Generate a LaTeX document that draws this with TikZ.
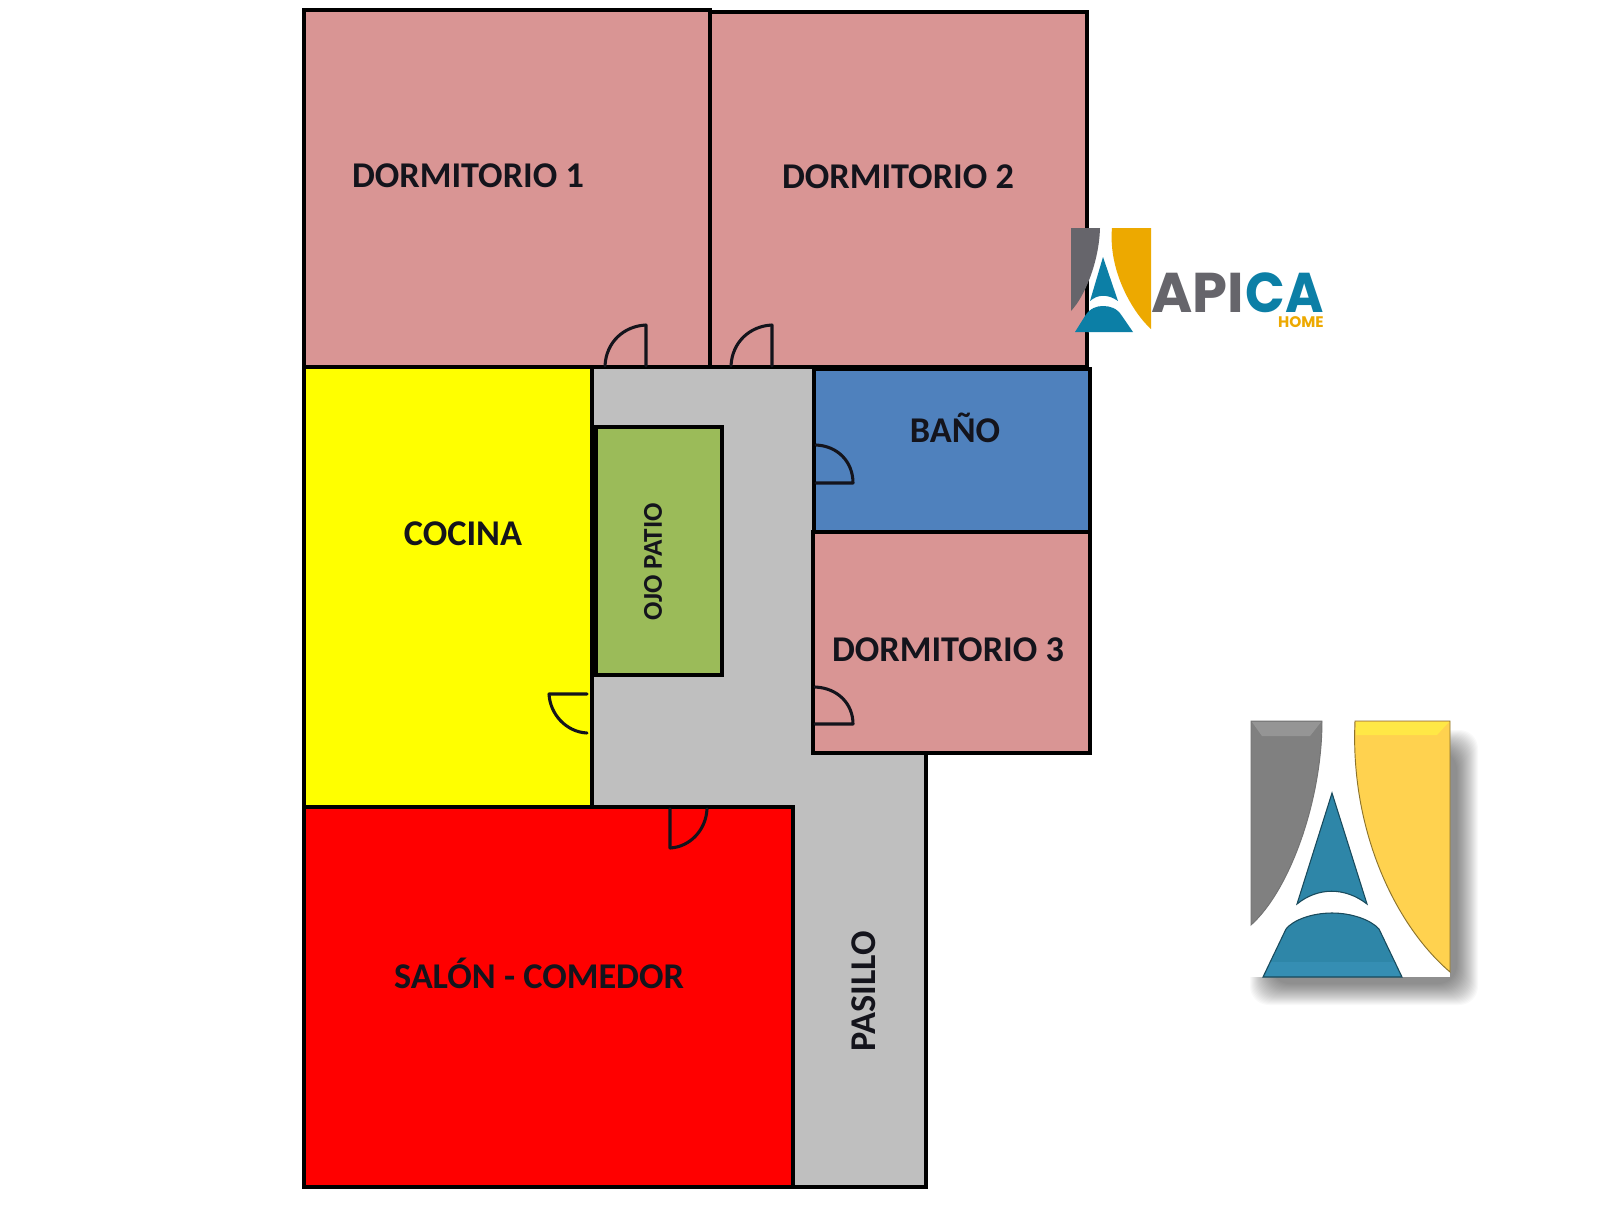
\documentclass[tikz,border=0pt]{standalone}
\usepackage{graphicx}
\usepackage{fontspec}
\setmainfont{Carlito}[BoldFont=Carlito Bold]
\newfontfamily\logofont{Poppins}[UprightFont=* Bold]
\definecolor{rosa}{HTML}{D99594}
\definecolor{gris}{HTML}{BFBFBF}
\definecolor{verde}{HTML}{9BBB59}
\definecolor{azul}{HTML}{4F81BD}
\definecolor{amarillo}{RGB}{255,255,0}
\definecolor{rojo}{RGB}{255,0,0}
\definecolor{tinta}{HTML}{14141C}
\definecolor{lgris}{HTML}{66656B}
\definecolor{loro}{HTML}{EDA900}
\definecolor{lazul}{HTML}{0C7FA6}
\definecolor{bgris}{HTML}{808080}
\definecolor{boro}{HTML}{FFD24F}
\definecolor{bazul}{HTML}{2E86A8}
\definecolor{bamar}{RGB}{255,232,70}
\definecolor{bcian}{RGB}{60,150,190}
\tikzset{
  wall/.style={draw=black,line width=3.5pt,line join=miter,line cap=rect},
  door/.style={draw=tinta,line width=2.3pt,line cap=round,line join=round},
  rotulo/.style={font=\fontsize{27.2pt}{32pt}\selectfont\bfseries,text=tinta,inner sep=0pt},
  rotulochico/.style={font=\fontsize{20.4pt}{24pt}\selectfont\bfseries,text=tinta,inner sep=0pt},
}
\begin{document}
\begin{tikzpicture}[x=0.75pt,y=-0.75pt]
\useasboundingbox (0,0) rectangle (1600,1224);
\fill[white] (0,0) rectangle (1600,1224);
% rooms
\path[wall,fill=gris] (592,367) -- (814,367) -- (814,753) -- (926,753) -- (926,1187) -- (793,1187) -- (793,807) -- (592,807) -- cycle;
\path[wall,fill=rosa] (304,10) rectangle (710,367);
\path[wall,fill=rosa] (710,12) rectangle (1087,367);
\path[wall,fill=amarillo] (304,367) rectangle (592,807);
\path[wall,fill=azul] (814,369) rectangle (1090,532);
\path[wall,fill=rosa] (813,532) rectangle (1090,753);
\path[wall,fill=rojo] (304,807) rectangle (793,1187);
\path[wall,fill=verde] (596,427) rectangle (722,675);
% doors
\draw[door] (605,366) .. controls (606,342) and (624,326) .. (646,325) -- (646,366);
\draw[door] (731,366) .. controls (732,342) and (750,326) .. (772,325) -- (772,366);
\draw[door] (816,445) .. controls (838,446) and (853,462) .. (853,483) -- (816,483);
\draw[door] (815,687) .. controls (838,688) and (853,704) .. (853,724) -- (815,724);
\draw[door] (587,694) -- (549,694) .. controls (550,714) and (566,732) .. (587,733);
\draw[door] (670,809) -- (670,848) .. controls (690,847) and (706,830) .. (707,809);
% labels
\node[rotulo] (d1) at (468,176) {DORMITORIO 1};
\node[rotulo] (d2) at (898,176.5) {DORMITORIO 2};
\node[rotulo] (bano) at (955,428) {BAÑO};
\node[rotulo] (cocina) at (463,534) {COCINA};
\node[rotulochico,rotate=90] (ojo) at (653,562) {OJO PATIO};
\node[rotulo] (d3) at (948,650) {DORMITORIO 3};
\node[rotulo] (salon) at (539,973) {SALÓN - COMEDOR};
\node[rotulo,rotate=90] (pasillo) at (864,991) {PASILLO};
% small logo
\fill[white] (1093,258) -- (1112,258) -- (1150,332) -- (1088,332) -- cycle;
\fill[lgris] (1071,228) -- (1100,228) .. controls (1099,262) and (1085,296) .. (1071,311) -- cycle;
\fill[loro] (1112,228) -- (1151,228) -- (1151,329) .. controls (1134,314) and (1108,272) .. (1112,228) -- cycle;
\fill[lazul] (1103,257) -- (1118,301) .. controls (1108,294) and (1098,294) .. (1090,301) -- cycle;
\fill[lazul] (1075,332) -- (1085,316) .. controls (1090,308) and (1097,306) .. (1103,306) .. controls (1110,306) and (1117,308) .. (1122,316) -- (1133,332) -- cycle;
\node[inner sep=0pt,anchor=base east,text=lgris] (api) at (1244,312) {\logofont\fontsize{42pt}{42pt}\selectfont API};
\node[inner sep=0pt,anchor=base east,text=lazul] (ca) at (1324,312) {\raisebox{0pt}[\height][0pt]{\scalebox{0.93}[1]{\logofont\fontsize{42pt}{42pt}\selectfont CA}}};
\node[inner sep=0pt,anchor=base east,text=loro] (home) at (1324,327.5) {\logofont\fontsize{11.5pt}{12pt}\selectfont HOME};
% large logo with shadow
\foreach \i in {0,...,21}{
  \fill[black,opacity=0.022,rounded corners=14pt] ({1250+\i},{730+\i}) rectangle ({1478-\i},{1005-\i});
}
\fill[white] (1250,721) rectangle (1450,977);
\filldraw[fill=bgris,draw=black!55,line width=0.7pt] (1251,721) -- (1322,721) .. controls (1322,800) and (1290,890) .. (1251,925) -- cycle;
\fill[black!25,opacity=0.35] (1252,722) -- (1321,722) -- (1310,736) -- (1262,736) -- cycle;
\filldraw[fill=boro,draw=black!45!boro,line width=0.7pt] (1355,721) -- (1450,721) -- (1450,972) .. controls (1395,925) and (1350,830) .. (1355,721) -- cycle;
\fill[bamar] (1356,722) -- (1449,722) -- (1437,735) -- (1356,735) -- cycle;
\filldraw[fill=bazul,draw=black!45!bazul,line width=0.8pt] (1332,793) -- (1367,904) .. controls (1345,887) and (1318,887) .. (1297,904) -- cycle;
\filldraw[fill=bazul,draw=black!45!bazul,line width=0.8pt] (1263,977) -- (1286,929) .. controls (1293,920) and (1312,913) .. (1332,913) .. controls (1352,913) and (1371,920) .. (1379,929) -- (1402,977) -- cycle;
\fill[bcian,opacity=0.5] (1265,976) -- (1271,962) -- (1394,962) -- (1400,976) -- cycle;
\end{tikzpicture}
\end{document}
